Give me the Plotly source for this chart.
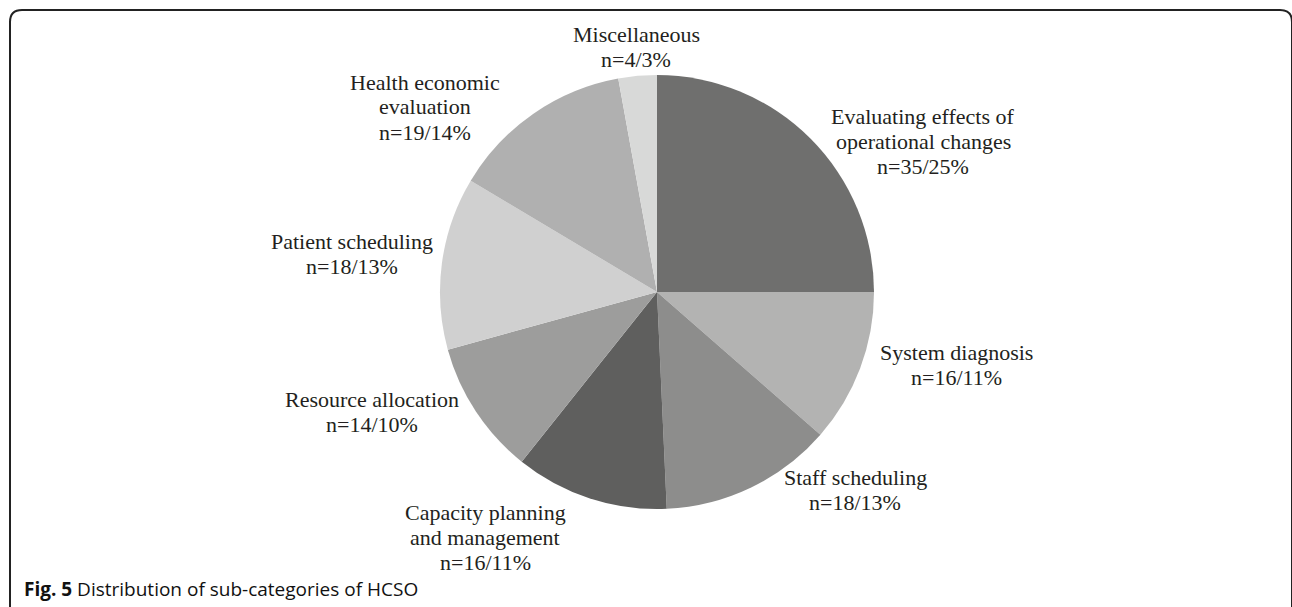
import plotly.graph_objects as go

W, H = 1292, 607

categories = ["Evaluating effects of<br>operational changes", "System diagnosis", "Staff scheduling",
              "Capacity planning<br>and management", "Resource allocation", "Patient scheduling",
              "Health economic<br>evaluation", "Miscellaneous"]
counts = [35, 16, 18, 16, 14, 18, 19, 4]
percents = [25, 11, 13, 11, 10, 13, 14, 3]
colors = ["#6f6f6e", "#b3b3b2", "#8d8d8c", "#5f5f5e", "#9d9d9c", "#d0d0d0", "#b0b0b0", "#d8d9d8"]

# label centre positions in pixels
label_pos = [(923, 141), (956, 365), (855, 490), (485, 537), (372, 412), (352, 254), (425, 107), (636, 47)]

cx, cy, r = 657, 292, 217
LINE = 25

fig = go.Figure()
fig.add_trace(go.Pie(
    labels=[c.replace("<br>", " ") for c in categories], values=counts,
    sort=False, direction="clockwise", rotation=0,
    marker=dict(colors=colors, line=dict(width=0)),
    textinfo="none", hoverinfo="label+value", showlegend=False,
    domain=dict(x=[(cx - r) / W, (cx + r) / W], y=[1 - (cy + r) / H, 1 - (cy - r) / H]),
))

for cat, n, p, (px, py) in zip(categories, counts, percents, label_pos):
    lines = cat.split("<br>") + [f"n={n}/{p}%"]
    k = len(lines)
    for i, ln in enumerate(lines):
        yy = py + (i - (k - 1) / 2) * LINE
        fig.add_annotation(
            x=px / W, y=1 - yy / H, xref="paper", yref="paper",
            text=ln, showarrow=False,
            xanchor="center", yanchor="middle", align="center",
            font=dict(family="Liberation Serif", size=22, color="#231f20"),
        )

fig.add_annotation(
    x=22 / W, y=1 - 589 / H, xref="paper", yref="paper",
    text="<b>Fig. 5</b> Distribution of sub-categories of HCSO", showarrow=False,
    xanchor="left", yanchor="middle",
    font=dict(family="Open Sans", size=19, color="#111111"),
)

def P(x, y):
    return f"{x / W:.5f},{1 - y / H:.5f}"

path = (f"M {P(10, 607)} L {P(10, 22)} Q {P(10, 10)} {P(22, 10)} "
        f"L {P(1280, 10)} Q {P(1292, 10)} {P(1292, 22)} L {P(1292, 607)}")
fig.add_shape(type="path", path=path, xref="paper", yref="paper",
              line=dict(color="#222222", width=2))

fig.update_layout(
    width=W, height=H, margin=dict(l=0, r=0, t=0, b=0),
    paper_bgcolor="white", plot_bgcolor="white",
)

fig.write_html("out.html")
